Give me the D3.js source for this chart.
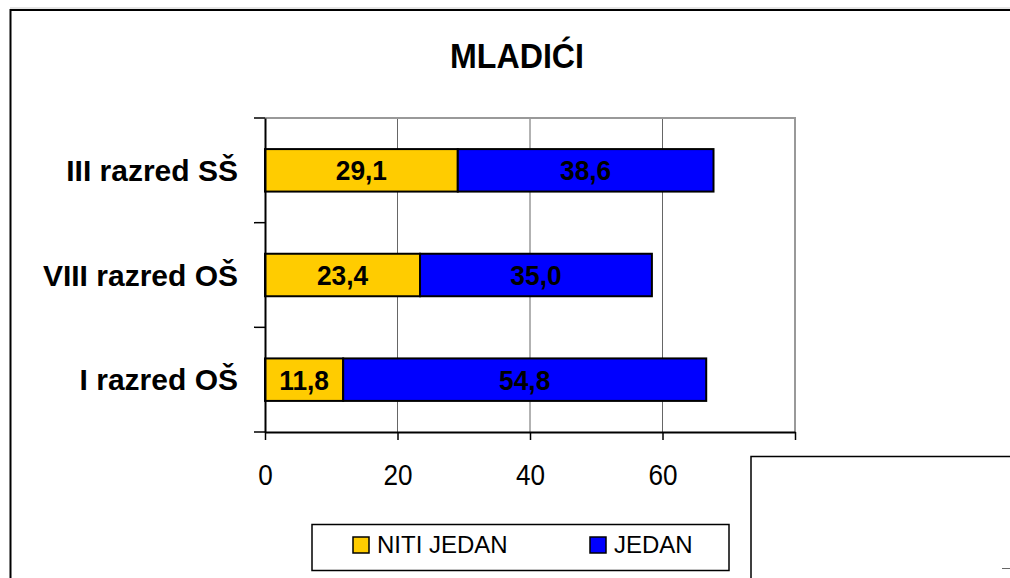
<!DOCTYPE html>
<html><head><meta charset="utf-8">
<script src="https://cdn.jsdelivr.net/npm/d3@7"></script>
<style>body{margin:0;background:#fff}svg{display:block;font-family:"Liberation Sans",Arial,sans-serif}</style>
</head><body>
<script>
const categories = ["III razred SŠ", "VIII razred OŠ", "I razred OŠ"];
const seriesNames = ["NITI JEDAN", "JEDAN"];
const nitiJedan = [29.1, 23.4, 11.8];
const jedan = [38.6, 35.0, 54.8];
const xTicks = [0, 20, 40, 60, 80];
const xTickLabels = ["0", "20", "40", "60", ""];
const colors = ["#FFCC00", "#0000FF"];
const title = "MLADIĆI";

const W = 1010, H = 578;
const svg = d3.select("body").append("svg").attr("width", W).attr("height", H);

// outer chart border
svg.append("line").attr("x1", 10).attr("x2", W).attr("y1", 8).attr("y2", 8).attr("stroke", "#ccc").attr("stroke-width", 1);
svg.append("path").attr("d", `M10.5,${H} V10 H${W}`).attr("fill", "none").attr("stroke", "#000").attr("stroke-width", 2);

// title (slightly condensed like the original)
svg.append("text").attr("transform", "translate(517,68) scale(0.92,1)").attr("text-anchor", "middle")
  .style("font-size", "35px").style("font-weight", "bold").text(title);

const L = 265, R = 795, T = 118, B = 432;
const x = d3.scaleLinear().domain([0, 80]).range([L, R]);
const y = d3.scaleBand().domain(categories).range([T, B]).paddingInner(0.594).paddingOuter(0.297);

const g = svg.append("g");
// gridlines
g.selectAll(".grid").data(xTicks.slice(1, -1)).join("line")
  .attr("x1", d => x(d)).attr("x2", d => x(d)).attr("y1", T).attr("y2", B)
  .attr("stroke", "#666").attr("stroke-width", 1);
// top and right plot border (gray)
g.append("path").attr("d", `M${L},${T} H${R} V${B}`).attr("fill", "none").attr("stroke", "#999").attr("stroke-width", 2);

// bars
const data = categories.map((c, i) => ({ c, vals: [nitiJedan[i], jedan[i]] }));
data.forEach(d => {
  let acc = 0;
  d.vals.forEach((v, k) => {
    const x0 = x(acc), x1 = x(acc + v);
    g.append("rect").attr("x", x0).attr("y", y(d.c)).attr("width", x1 - x0).attr("height", y.bandwidth())
      .attr("fill", colors[k]).attr("stroke", "#000").attr("stroke-width", 2);
    g.append("text").attr("transform", `translate(${(x0 + x1) / 2},${y(d.c) + y.bandwidth() / 2 + 10}) scale(0.94,1)`)
      .attr("text-anchor", "middle").style("font-size", "28px").style("font-weight", "bold")
      .text(v.toFixed(1).replace(".", ","));
    acc += v;
  });
});

// x axis
const xAxis = d3.axisBottom(x).tickValues(xTicks).tickFormat((d, i) => xTickLabels[i]).tickSize(8).tickSizeOuter(0);
const xa = svg.append("g").attr("transform", `translate(0,${B})`).call(xAxis);
xa.select(".domain").attr("stroke", "#000").attr("stroke-width", 2);
xa.selectAll(".tick line").attr("stroke", "#000").attr("stroke-width", 1.5);
xa.selectAll(".tick text").attr("y", 0).attr("dy", 0).attr("transform", "translate(0,53) scale(0.9,1)")
  .style("font-size", "29px").style("font-family", "Liberation Sans, Arial, sans-serif").attr("fill", "#000");

// y axis
const yAxis = d3.axisLeft(y).tickSize(0).tickPadding(27);
const ya = svg.append("g").attr("transform", `translate(${L},0)`).call(yAxis);
ya.select(".domain").attr("stroke", "#000").attr("stroke-width", 2);
ya.selectAll(".tick text").attr("dy", "0.36em").style("font-size", "30px").style("font-weight", "bold")
  .style("font-family", "Liberation Sans, Arial, sans-serif").attr("fill", "#000");
// category separator ticks
const sepY = [T, ...categories.map(c => y(c) + y.bandwidth() + y.step() * y.paddingInner() / 2).slice(0, -1), B];
ya.selectAll(".sep").data(sepY).join("line").attr("x1", -11).attr("x2", 0).attr("y1", d => d).attr("y2", d => d)
  .attr("stroke", "#000").attr("stroke-width", 1.5);

// legend
const lg = svg.append("g");
lg.append("rect").attr("x", 312).attr("y", 524.5).attr("width", 417).attr("height", 46)
  .attr("fill", "#fff").attr("stroke", "#000").attr("stroke-width", 1.5);
const legX = [353, 590];
seriesNames.forEach((s, i) => {
  lg.append("rect").attr("x", legX[i]).attr("y", 537).attr("width", 16).attr("height", 16)
    .attr("fill", colors[i]).attr("stroke", "#000").attr("stroke-width", 1.5);
  lg.append("text").attr("x", legX[i] + 24).attr("y", 552.5).style("font-size", "24px").text(s);
});

// bottom-right box
svg.append("path").attr("d", `M751,${H} V456.5 H${W}`).attr("fill", "none").attr("stroke", "#000").attr("stroke-width", 1.5);
svg.append("line").attr("x1", 1002).attr("x2", W).attr("y1", 568.5).attr("y2", 568.5).attr("stroke", "#666").attr("stroke-width", 1);
</script>
</body></html>
